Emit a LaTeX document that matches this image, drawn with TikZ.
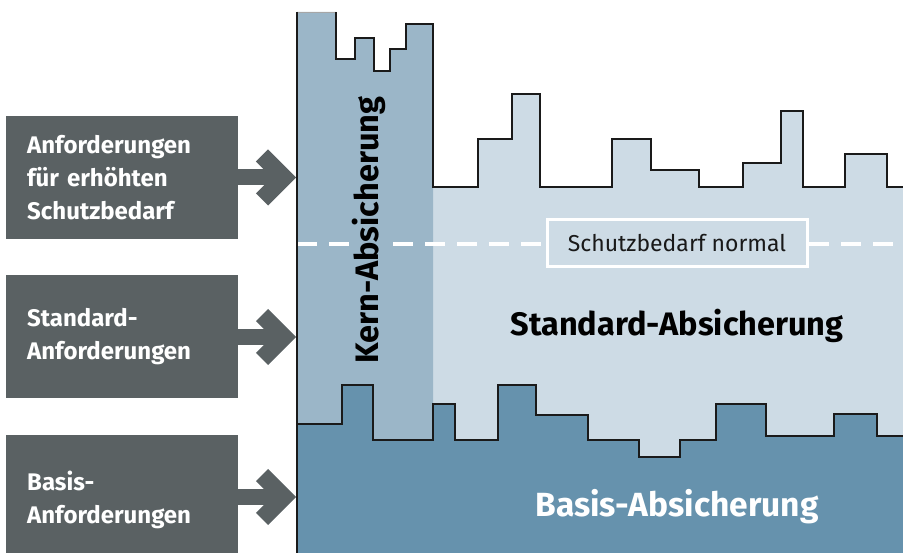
\documentclass[tikz,border=0pt]{standalone}
\usepackage{fontspec}
\setmainfont{Fira Sans}
\usetikzlibrary{calc}

\definecolor{kernfill}{HTML}{9BB6C8}
\definecolor{stdfill}{HTML}{CDDBE5}
\definecolor{basisfill}{HTML}{6692AD}
\definecolor{boxgray}{HTML}{5A6163}
\definecolor{edge}{HTML}{1A1A1A}

\tikzset{
  reqbox/.style={fill=boxgray, text=white, font=\bfseries\fontsize{24}{33}\selectfont,
    minimum width=232pt, minimum height=123pt, inner xsep=21pt, inner ysep=0pt,
    text width=190pt, align=left, anchor=west},
  shaft/.style={draw=boxgray, line width=16pt},
  chevron/.style={draw=boxgray, line width=17pt, line join=miter},
  profile/.style={draw=edge, line width=1.5pt, line join=miter},
  bigtitle/.style={font=\bfseries\fontsize{32.5}{36}\selectfont},
}

\begin{document}
\begin{tikzpicture}[x=1pt, y=-1pt]
  \useasboundingbox (0,0) rectangle (903,553);

  % standard level
  \fill[stdfill] (433,187) -- (478,187) -- (478,139) -- (512,139) -- (512,94) -- (540,94)
    -- (540,187) -- (612,187) -- (612,139) -- (651,139) -- (651,170) -- (699,170)
    -- (699,187) -- (743,187) -- (743,163) -- (781,163) -- (781,111) -- (803,111)
    -- (803,187) -- (845,187) -- (845,154) -- (887,154) -- (887,187) -- (903,187)
    -- (903,553) -- (433,553) -- cycle;

  % core level
  \fill[kernfill] (297,12) -- (336,12) -- (336,59) -- (355,59) -- (355,38) -- (374,38)
    -- (374,71) -- (390,71) -- (390,49) -- (406,49) -- (406,24) -- (433,24)
    -- (433,553) -- (297,553) -- cycle;
  \draw[gray!70, line width=0.6pt] (297,12) -- (336,12);

  % upper outline
  \draw[profile] (336,12) -- (336,59) -- (355,59) -- (355,38) -- (374,38)
    -- (374,71) -- (390,71) -- (390,49) -- (406,49) -- (406,24) -- (433,24)
    -- (433,187) -- (478,187) -- (478,139) -- (512,139) -- (512,94) -- (540,94)
    -- (540,187) -- (612,187) -- (612,139) -- (651,139) -- (651,170) -- (699,170)
    -- (699,187) -- (743,187) -- (743,163) -- (781,163) -- (781,111) -- (803,111)
    -- (803,187) -- (845,187) -- (845,154) -- (887,154) -- (887,187) -- (903,187);

  % basic level
  \fill[basisfill] (297,424) -- (342,424) -- (342,385) -- (373,385) -- (373,440)
    -- (433,440) -- (433,404) -- (455,404) -- (455,440) -- (498,440) -- (498,385)
    -- (536,385) -- (536,415) -- (588,415) -- (588,440) -- (639,440) -- (639,457)
    -- (680,457) -- (680,440) -- (716,440) -- (716,404) -- (766,404) -- (766,436)
    -- (834,436) -- (834,414) -- (877,414) -- (877,436) -- (903,436)
    -- (903,553) -- (297,553) -- cycle;
  \draw[profile] (297,424) -- (342,424) -- (342,385) -- (373,385) -- (373,440)
    -- (433,440) -- (433,404) -- (455,404) -- (455,440) -- (498,440) -- (498,385)
    -- (536,385) -- (536,415) -- (588,415) -- (588,440) -- (639,440) -- (639,457)
    -- (680,457) -- (680,440) -- (716,440) -- (716,404) -- (766,404) -- (766,436)
    -- (834,436) -- (834,414) -- (877,414) -- (877,436) -- (903,436);

  % normal protection threshold
  \draw[white, line width=4.5pt, dash pattern=on 20pt off 12pt] (297,244) -- (903,244);
  \node[draw=white, line width=3pt, fill=stdfill, minimum width=260pt, minimum height=47pt,
        inner sep=0pt, font=\fontsize{23}{26}\selectfont, text=black!90]
    (normal) at (677,243.5) {Schutzbedarf normal};

  % axis
  \draw[edge, line width=1.5pt] (297,12) -- (297,553);

  % level titles
  \node[bigtitle, rotate=90, fill=kernfill, inner xsep=4pt, inner ysep=1pt] (kern) at (369,230) {Kern-Absicherung};
  \node[bigtitle, text=black] (std) at (677,326) {Standard-Absicherung};
  \node[bigtitle, text=white, font=\bfseries\fontsize{33.5}{36}\selectfont] (basis) at (677,507) {Basis-Absicherung};

  % requirement boxes
  \node[reqbox] (r1) at (6,177.5) {Anforderungen\\für erhöhten\\Schutzbedarf};
  \node[reqbox] (r2) at (6,336.5) {Standard-\\Anforderungen};
  \node[reqbox, minimum height=130pt] (r3) at (6,500) {Basis-\\Anforderungen};

  % arrow targets on the axis
  \coordinate (t1) at (297,177.5);
  \coordinate (t2) at (297,337);
  \coordinate (t3) at (297,497);

  % arrows
  \foreach \b/\t in {r1/t1, r2/t2, r3/t3} {
    \draw[shaft] (\b.east |- \t) -- ($(\t)+(-15,0)$);
    \draw[chevron] ($(\t)+(-35,-22)$) -- ($(\t)+(-13,0)$) -- ($(\t)+(-35,22)$);
  }
\end{tikzpicture}
\end{document}
